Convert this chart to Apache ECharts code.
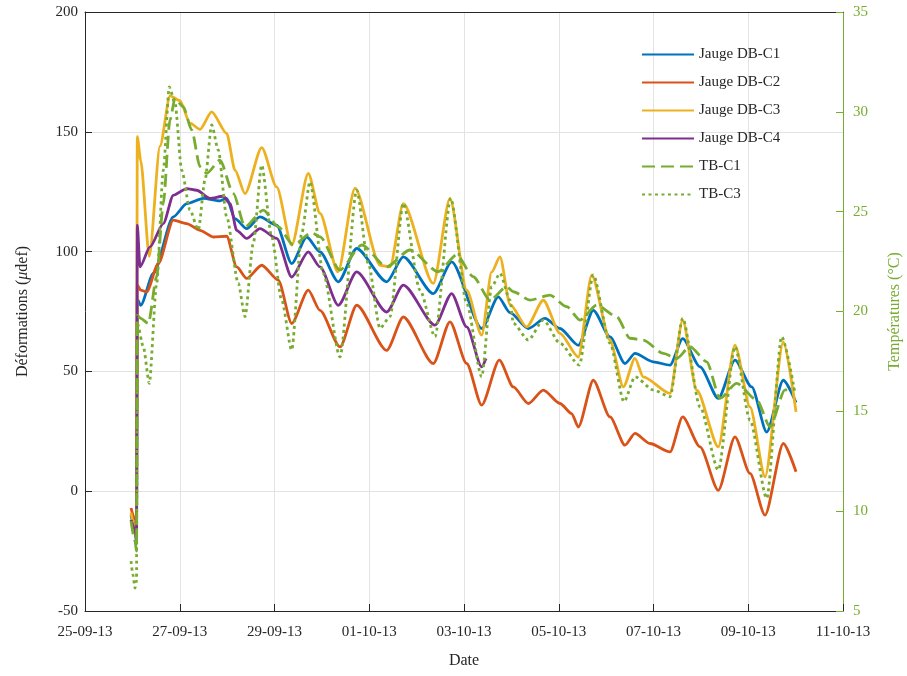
<!DOCTYPE html>
<html>
<head>
<meta charset="utf-8">
<script src="https://cdn.jsdelivr.net/npm/echarts@6/dist/echarts.min.js"></script>
<style>
  html, body { margin: 0; padding: 0; background: #fff; }
  #main { width: 907px; height: 676px; }
</style>
</head>
<body>
<div id="main"></div>
<script>
// x = days since 25-09-13 00:00
var tickLabels = ['25-09-13', '27-09-13', '29-09-13', '01-10-13', '03-10-13', '05-10-13', '07-10-13', '09-10-13', '11-10-13'];

// deformations (µdef)
var jaugeC1 = [[0.971,-10],[1.055,-16],[1.087,-22],[1.104,80],[1.176,77.6],[1.442,90.9],[1.864,114.5],[2.147,120],[2.497,122.2],[2.850,121.2],[2.991,122.2],[3.166,113.8],[3.413,109.6],[3.694,114.5],[4.046,111],[4.363,95],[4.680,106.1],[4.960,99.9],[5.347,87.4],[5.735,101.3],[6.368,87.4],[6.719,97.8],[7.352,82.5],[7.740,95.7],[8.373,67.9],[8.724,81.1],[8.971,74.5],[9.357,67.9],[9.710,72.1],[10.026,67.9],[10.413,60.9],[10.729,75.5],[11.082,64.4],[11.398,53.3],[11.609,57.5],[11.996,54],[12.348,52.6],[12.616,63.7],[12.982,51.9],[13.368,38.7],[13.720,54.7],[14.073,43.5],[14.390,24.7],[14.740,46.3],[15.008,37]];
var jaugeC2 = [[0.971,-7],[1.055,-12],[1.087,-18],[1.104,86],[1.176,83.9],[1.302,83.2],[1.547,95],[1.864,113.1],[2.147,111.7],[2.427,108.9],[2.708,106.1],[2.991,106.4],[3.202,93.6],[3.413,88.8],[3.730,94.3],[4.080,88.1],[4.363,70],[4.713,83.9],[4.960,75.5],[5.382,60.2],[5.735,77.6],[6.368,58.8],[6.719,72.7],[7.352,53.3],[7.704,70.7],[8.057,53.3],[8.373,35.9],[8.745,54.7],[9.041,43.5],[9.357,36.6],[9.674,42.2],[10.026,36.6],[10.273,32.4],[10.413,26.8],[10.729,46.3],[11.082,31],[11.398,19.2],[11.609,24.1],[11.926,19.9],[12.348,16.4],[12.616,31],[12.982,18.5],[13.368,0.4],[13.720,22.7],[14.037,7.4],[14.354,-10],[14.740,19.9],[15.008,8.1]];
var jaugeC3 = [[0.971,-9],[1.055,-16],[1.087,-20],[1.104,148],[1.176,138],[1.357,98],[1.583,144],[1.794,165],[2.005,163],[2.216,153.6],[2.427,151],[2.674,158.3],[2.991,149.3],[3.166,134],[3.377,124.2],[3.730,143.4],[4.046,127],[4.363,102.7],[4.713,132.6],[4.960,116],[5.340,91.5],[5.699,126.5],[6.227,94.3],[6.438,93.6],[6.719,120],[7.352,86.7],[7.704,122.2],[8.057,83.9],[8.373,65.1],[8.584,91.5],[8.760,97.8],[8.971,78],[9.323,68.6],[9.674,79.7],[10.026,65.9],[10.413,56],[10.696,90.2],[11.082,63],[11.363,43.5],[11.609,55.4],[11.785,47.7],[12.348,40.8],[12.616,71.4],[12.912,42.2],[13.368,18.5],[13.720,61],[14.037,35.2],[14.354,6],[14.740,62.3],[15.008,33.1]];
var jaugeC4 = [[0.971,-12],[1.055,-16],[1.087,-20],[1.104,111],[1.161,93.6],[1.372,102],[1.653,111.7],[1.864,123.5],[2.147,126.3],[2.358,125.6],[2.639,122.2],[2.919,123.1],[3.061,120],[3.202,108.9],[3.413,105.5],[3.694,109.6],[4.046,105.5],[4.363,89.4],[4.713,99.9],[4.960,93.6],[5.347,77.6],[5.735,91.5],[6.368,74.8],[6.719,86],[7.388,69.3],[7.740,82.5],[8.057,68.6],[8.373,51.9],[8.464,55.4]];

// temperatures (°C)
var tbC1 = [[0.971,9.5],[1.055,8.5],[1.087,8],[1.104,19.8],[1.176,19.66],[1.336,19.4],[1.513,21.74],[1.653,25.42],[1.794,29.59],[1.900,30.67],[2.075,30.25],[2.252,29.09],[2.427,27.25],[2.569,26.92],[2.850,27.58],[3.130,25.92],[3.377,24.24],[3.764,25.08],[4.080,24.24],[4.397,23.33],[4.785,23.95],[4.960,23.74],[5.382,22.08],[5.841,23.33],[6.368,22.24],[6.860,23.08],[7.457,21.99],[7.846,22.83],[8.196,21.74],[8.549,20.57],[8.901,21.24],[9.041,20.99],[9.393,20.57],[9.815,20.82],[10.168,20.24],[10.449,19.57],[10.801,20.32],[11.223,19.74],[11.504,18.66],[11.785,18.57],[12.207,17.9],[12.490,17.65],[12.770,18.24],[13.123,17.48],[13.404,15.65],[13.756,16.4],[14.179,15.57],[14.459,14.23],[14.776,16.07],[14.987,16.15]];
var tbC3 = [[0.971,7.5],[1.013,6.8],[1.055,6.15],[1.087,6.5],[1.104,19.4],[1.231,18.24],[1.357,16.4],[1.513,21.41],[1.653,27.08],[1.779,31.25],[1.900,30.42],[2.041,27.08],[2.216,25.08],[2.392,24.08],[2.533,26.58],[2.674,29.34],[2.814,28.08],[2.991,24.74],[3.236,21.41],[3.377,19.74],[3.552,23.41],[3.730,27.33],[3.941,23.74],[4.152,20.57],[4.363,18.07],[4.574,23.91],[4.749,26.5],[5.030,21.91],[5.382,17.73],[5.735,26.08],[5.980,22.41],[6.227,19.16],[6.438,19.74],[6.719,25.42],[7.071,21.07],[7.388,18.74],[7.719,25.67],[8.057,20.41],[8.373,16.73],[8.584,21.24],[8.760,21.91],[8.971,20.57],[9.041,19.41],[9.357,18.57],[9.674,19.57],[10.026,18.41],[10.434,17.32],[10.729,21.83],[11.082,18.41],[11.377,15.48],[11.609,16.73],[11.996,16.07],[12.348,15.73],[12.616,19.66],[12.982,15.23],[13.368,12.06],[13.720,18.24],[14.037,14.56],[14.390,10.64],[14.706,18.74],[14.987,15.9]];

var font = 'Liberation Serif';
var dark = '#262626';
var green = '#77AC30';

function lineSeries(name, data, color, yIdx, type) {
  return {
    name: name,
    type: 'line',
    yAxisIndex: yIdx,
    data: data,
    symbol: 'none',
    smooth: 0.25,
    smoothMonotone: 'x',
    lineStyle: { color: color, width: 2.8, type: type || 'solid', cap: 'butt' },
    itemStyle: { color: color }
  };
}

var chart = echarts.init(document.getElementById('main'));

var option = {
  animation: false,
  backgroundColor: '#fff',
  grid: {
    left: 85, right: 64, top: 12, bottom: 65,
    outerBoundsMode: 'none'
  },
  legend: {
    orient: 'vertical',
    left: 636, top: 42,
    itemWidth: 52, itemHeight: 14, itemGap: 13,
    itemStyle: { opacity: 0 },
    textStyle: { fontFamily: font, fontSize: 15, color: dark },
    data: ['Jauge DB-C1', 'Jauge DB-C2', 'Jauge DB-C3', 'Jauge DB-C4', 'TB-C1', 'TB-C3']
  },
  xAxis: [
    {
      type: 'value',
      min: 0, max: 16, interval: 2,
      name: 'Date',
      nameLocation: 'middle',
      nameGap: 42,
      nameTextStyle: { fontFamily: font, fontSize: 16, color: dark },
      axisLine: { onZero: false, lineStyle: { color: dark } },
      axisTick: { inside: true, length: 7, lineStyle: { color: dark } },
      axisLabel: {
        fontFamily: font, fontSize: 15, color: dark, margin: 14,
        formatter: function (v) { return tickLabels[Math.round(v / 2)]; }
      },
      splitLine: { show: true, lineStyle: { color: '#e3e3e3' } }
    },
    {
      // top frame line
      type: 'value',
      position: 'top',
      min: 0, max: 16, interval: 2,
      axisLine: { onZero: false, lineStyle: { color: dark } },
      axisTick: { show: false },
      axisLabel: { show: false },
      splitLine: { show: false }
    }
  ],
  yAxis: [
    {
      type: 'value',
      min: -50, max: 200, interval: 50,
      name: '{a|Déformations (}{b|μ}{a|def)}',
      nameLocation: 'middle',
      nameGap: 54,
      nameTextStyle: {
        fontFamily: font, fontSize: 16, color: dark,
        rich: {
          a: { fontFamily: font, fontSize: 16, color: dark },
          b: { fontFamily: font, fontSize: 16, color: dark, fontStyle: 'italic' }
        }
      },
      axisLine: { show: true, onZero: false, lineStyle: { color: dark } },
      axisTick: { show: true, inside: true, length: 7, lineStyle: { color: dark } },
      axisLabel: { fontFamily: font, fontSize: 15, color: dark, margin: 7 },
      splitLine: { show: true, lineStyle: { color: '#e3e3e3' } }
    },
    {
      type: 'value',
      position: 'right',
      min: 5, max: 35, interval: 5,
      name: 'Températures (°C)',
      nameLocation: 'middle',
      nameGap: 44,
      nameTextStyle: { fontFamily: font, fontSize: 16, color: green },
      axisLine: { show: true, onZero: false, lineStyle: { color: green } },
      axisTick: { show: true, inside: true, length: 7, lineStyle: { color: green } },
      axisLabel: { fontFamily: font, fontSize: 15, color: green, margin: 10 },
      splitLine: { show: false }
    }
  ],
  series: [
    lineSeries('Jauge DB-C1', jaugeC1, '#0072BD', 0),
    lineSeries('Jauge DB-C2', jaugeC2, '#D95319', 0),
    lineSeries('Jauge DB-C3', jaugeC3, '#EDB120', 0),
    lineSeries('Jauge DB-C4', jaugeC4, '#7E2F8E', 0),
    lineSeries('TB-C1', tbC1, green, 1, [13, 6]),
    lineSeries('TB-C3', tbC3, green, 1, [3, 3.5])
  ]
};

chart.setOption(option);
</script>
</body>
</html>
